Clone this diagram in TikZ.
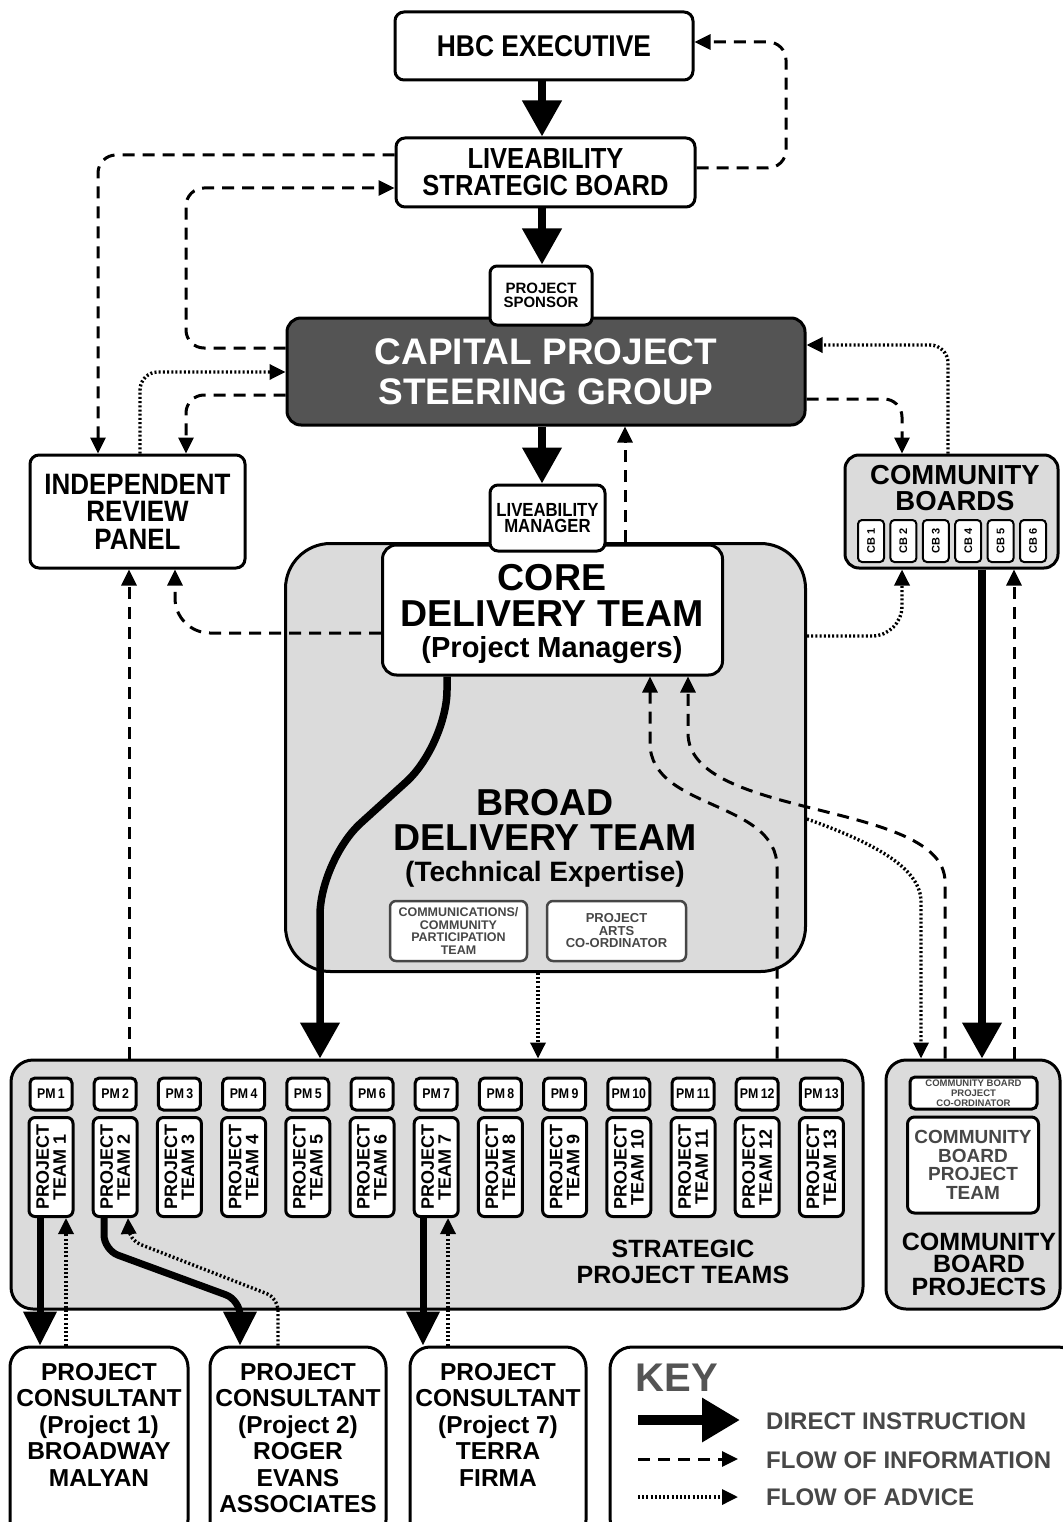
\documentclass[tikz,border=0pt]{standalone}
\usepackage{fontspec}
\newfontfamily\nf{Liberation Sans}
\newfontfamily\cf{Liberation Sans}[FakeStretch=0.88]
\usetikzlibrary{arrows.meta}
\newcommand\fsz[2]{\fontsize{#1}{#2}\selectfont\bfseries}
\definecolor{lightg}{gray}{0.86}
\definecolor{darkg}{gray}{0.33}
\definecolor{txtg}{gray}{0.28}
\begin{document}
\begin{tikzpicture}[x=1pt,y=-1pt,
 box/.style={draw=black, line width=3pt, rounded corners=9pt, fill=white, align=center, inner sep=0pt},
 lbl/.style={align=center, inner sep=0pt},
 direct/.style={line width=7.5pt, -{Triangle[width=38pt,length=36pt]}},
 directs/.style={line width=7pt, -{Triangle[width=32pt,length=34pt]}},
 info/.style={line width=3pt, dash pattern=on 12pt off 8pt, rounded corners=18pt, -{Triangle[width=15pt,length=16pt]}},
 advice/.style={line width=3.4pt, dash pattern=on 2pt off 2.2pt, rounded corners=18pt, -{Triangle[width=15pt,length=16pt]}},
]
\useasboundingbox (0,0) rectangle (1062,1522);
\fill[white] (0,0) rectangle (1062,1522);

% ---------- top boxes
\node[box, minimum width=298pt, minimum height=68pt, font=\cf\fsz{30}{27}] (hbc) at (544,46) {HBC EXECUTIVE};
\node[box, minimum width=299pt, minimum height=69pt, font=\cf\fsz{29}{27}] (lsb) at (545.5,172.5) {LIVEABILITY\\STRATEGIC BOARD};
\node[box, fill=darkg, minimum width=518pt, minimum height=107pt, rounded corners=14pt, text=white, font=\nf\fsz{37}{40}] (cpsg) at (546,371.5) {CAPITAL PROJECT\\STEERING GROUP};
\node[box, minimum width=102pt, minimum height=59pt, rounded corners=7pt, font=\nf\fsz{15}{14.5}] (sponsor) at (541,295.5) {PROJECT\\SPONSOR};

% ---------- side boxes
\node[box, minimum width=215pt, minimum height=113pt, font=\cf\fsz{29.5}{27.5}] (irp) at (137.5,511.5) {INDEPENDENT\\REVIEW\\PANEL};
\node[box, fill=lightg, minimum width=213pt, minimum height=113pt, rounded corners=14pt] (cb) at (951.5,511.5) {};
\node[lbl, font=\nf\fsz{27.5}{26}] (cbl) at (955,488) {COMMUNITY\\BOARDS};
\foreach \i in {1,...,6} {
  \node[box, line width=2pt, rounded corners=4pt, minimum width=26pt, minimum height=42pt] (cb\i) at ({871+32.4*(\i-1)},541) {};
  \node[lbl, rotate=90, font=\nf\fsz{11}{11}] (cbt\i) at (cb\i) {CB \i};
}

% ---------- delivery teams
\node[box, fill=lightg, minimum width=520pt, minimum height=428pt, rounded corners=45pt] (broad) at (545.5,757.5) {};
\node[box, minimum width=340pt, minimum height=130pt, rounded corners=14pt] (core) at (552.5,610) {};
\node[box, minimum width=115pt, minimum height=66pt, rounded corners=8pt, font=\cf\fsz{19}{16}] (lm) at (547.5,518) {LIVEABILITY\\MANAGER};
\node[lbl, font=\nf\fsz{37.5}{36}] (coret) at (552,595) {CORE\\DELIVERY TEAM};
\node[lbl, font=\nf\fsz{29}{29}] (cores) at (552,650) {(Project Managers)};
\node[lbl, font=\nf\fsz{37.5}{35}] (broadt) at (545,820) {BROAD\\DELIVERY TEAM};
\node[lbl, font=\nf\fsz{28}{28}] (broads) at (545,874) {(Technical Expertise)};
\node[box, draw=gray!55!black, line width=2.5pt, rounded corners=6pt, minimum width=137pt, minimum height=60pt, text=txtg, font=\nf\fsz{12.5}{12.4}] (comm) at (458.5,931) {COMMUNICATIONS/\\COMMUNITY\\PARTICIPATION\\TEAM};
\node[box, draw=gray!55!black, line width=2.5pt, rounded corners=6pt, minimum width=139pt, minimum height=60pt, text=txtg, font=\nf\fsz{13}{12.5}] (arts) at (616.5,931) {PROJECT\\ARTS\\CO-ORDINATOR};

% ---------- strategic project teams
\node[box, fill=lightg, minimum width=852pt, minimum height=249pt, rounded corners=22pt] (spt) at (437,1184.5) {};
\foreach \i in {1,...,13} {
  \pgfmathsetmacro\cx{51+64.2*(\i-1)}
  \node[box, rounded corners=5pt, minimum width=42pt, minimum height=32pt, font=\cf\fsz{14}{14}] (pm\i) at (\cx,1094) {PM\,\i};
  \node[box, rounded corners=6pt, minimum width=44pt, minimum height=99pt] (pt\i) at (\cx,1167) {};
  \node[lbl, rotate=90, font=\nf\fsz{18}{17}] (ptt\i) at (pt\i) {PROJECT\\TEAM \i};
}
\node[lbl, font=\nf\fsz{25}{26}] (sptl) at (683,1262) {STRATEGIC\\PROJECT TEAMS};

% ---------- community board projects
\node[box, fill=lightg, minimum width=174pt, minimum height=249pt, rounded corners=20pt] (cbp) at (973,1184.5) {};
\node[box, rounded corners=5pt, minimum width=127pt, minimum height=32pt, text=txtg, font=\nf\fsz{9.5}{9.8}] (cbpc) at (973.5,1093) {COMMUNITY BOARD\\PROJECT\\CO-ORDINATOR};
\node[box, rounded corners=7pt, minimum width=131pt, minimum height=96pt, text=txtg, font=\nf\fsz{19}{18.5}] (cbpt) at (973,1165) {COMMUNITY\\BOARD\\PROJECT\\TEAM};
\node[lbl, font=\nf\fsz{25}{22.5}] (cbpl) at (979,1264) {COMMUNITY\\BOARD\\PROJECTS};

% ---------- consultants and key
\node[box, minimum width=178pt, minimum height=193pt, rounded corners=20pt] (cons1) at (99,1443.5) {};
\node[box, minimum width=176pt, minimum height=193pt, rounded corners=20pt] (cons2) at (298,1443.5) {};
\node[box, minimum width=176pt, minimum height=193pt, rounded corners=20pt] (cons3) at (498,1443.5) {};
\node[box, minimum width=470pt, minimum height=193pt, rounded corners=22pt] (key) at (845,1443.5) {};
\node[lbl, anchor=north, font=\nf\fsz{24.5}{26.5}] (c1t) at (99,1363) {PROJECT\\CONSULTANT\\(Project 1)\\BROADWAY\\MALYAN};
\node[lbl, anchor=north, font=\nf\fsz{24.5}{26.5}] (c2t) at (298,1363) {PROJECT\\CONSULTANT\\(Project 2)\\ROGER\\EVANS\\ASSOCIATES};
\node[lbl, anchor=north, font=\nf\fsz{24.5}{26.5}] (c3t) at (498,1363) {PROJECT\\CONSULTANT\\(Project 7)\\TERRA\\FIRMA};
\node[lbl, font=\nf\fsz{40}{40}, text=darkg] (keyt) at (677,1378) {KEY};
\node[lbl, anchor=west, font=\nf\fsz{24}{24}, text=txtg] (k1l) at (766,1421) {DIRECT INSTRUCTION};
\node[lbl, anchor=west, font=\nf\fsz{24}{24}, text=txtg] (k2l) at (766,1460) {FLOW OF INFORMATION};
\node[lbl, anchor=west, font=\nf\fsz{24}{24}, text=txtg] (k3l) at (766,1497) {FLOW OF ADVICE};
\coordinate (k1a) at (638,1420); \coordinate (k1b) at (740,1420);
\coordinate (k2a) at (638,1459); \coordinate (k2b) at (738,1459);
\coordinate (k3a) at (638,1497); \coordinate (k3b) at (738,1497);
\draw[line width=10pt, -{Triangle[width=42pt,length=38pt]}] (k1a) -- (k1b);
\draw[info] (k2a) -- (k2b);
\draw[advice] (k3a) -- (k3b);

% ---------- connectors: top
\draw[direct] (hbc.south -| 542,0) -- (lsb.north -| 542,0);
\draw[direct] (lsb.south -| 542,0) -- (sponsor.north -| 542,0);
\draw[info] (lsb.east |- 0,168) -- (786,168) -- (786,42) -- (hbc.east |- 0,42);
\draw[info] (lsb.west |- 0,155) -- (98,155) -- (irp.north -| 98,0);
\draw[info] (cpsg.west |- 0,348) -- (186,348) -- (186,188) -- (lsb.west |- 0,188);
\draw[advice] (irp.north -| 140,0) -- (140,372) -- (cpsg.west |- 0,372);
\draw[info] (cpsg.west |- 0,395) -- (186,395) -- (irp.north -| 186,0);
\draw[advice] (cb.north -| 948,0) -- (948,345) -- (cpsg.east |- 0,345);
\draw[info] (cpsg.east |- 0,399) -- (902,399) -- (cb.north -| 902,0);
\draw[direct] (cpsg.south -| 542,0) -- (lm.north -| 542,0);
\draw[info] (broad.north -| 625,0) -- (cpsg.south -| 625,0);

% ---------- connectors: middle
\draw[info, rounded corners=35pt] (core.west |- 0,633) -- (175,633) -- (irp.south -| 175,0);
\draw[advice, rounded corners=30pt] (broad.east |- 0,636) -- (902,636) -- (cb.south -| 902,0);
\draw[direct, rounded corners=55pt] (core.south -| 447,0) -- (447,745) -- (320,860) -- (spt.north -| 320,0);
\draw[info] (spt.north -| 777,0) -- (777,885) .. controls (777,800) and (650,810) .. (650,725) -- (core.south -| 650,0);
\draw[info] (cbp.north -| 945,0) -- (945,900) .. controls (945,800) and (688,820) .. (688,715) -- (core.south -| 688,0);
\draw[advice] (broad.east |- 0,819) .. controls (880,845) and (921,870) .. (921,920) -- (cbp.north -| 921,0);
\draw[advice] (broad.south -| 538,0) -- (spt.north -| 538,0);
\draw[info] (spt.north -| 129,0) -- (irp.south -| 129,0);
\draw[direct] (cb.south -| 982,0) -- (cbp.north -| 982,0);
\draw[info] (cbp.north -| 1014,0) -- (cb.south -| 1014,0);

% ---------- connectors: bottom
\draw[directs] (pt1.south -| 40,0) -- (cons1.north -| 40,0);
\draw[advice] (cons1.north -| 66,0) -- (pt1.south -| 66,0);
\draw[directs, rounded corners=15pt] (pt2.south -| 104,0) -- (104,1250) -- (240,1300) -- (cons2.north -| 240,0);
\draw[advice, rounded corners=12pt] (cons2.north -| 278,0) -- (278,1298) -- (129,1240) -- (pt2.south -| 128,0);
\draw[directs] (pt7.south -| 423,0) -- (cons3.north -| 423,0);
\draw[advice] (cons3.north -| 448,0) -- (pt7.south -| 448,0);
\end{tikzpicture}
\end{document}
